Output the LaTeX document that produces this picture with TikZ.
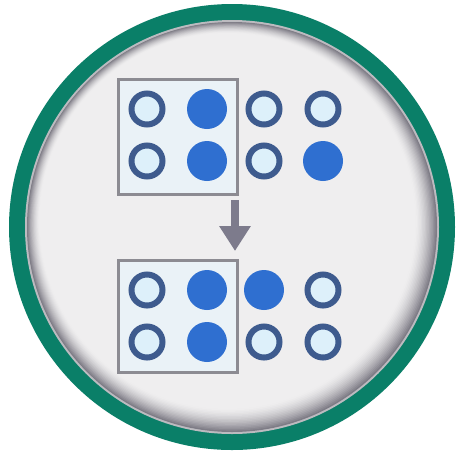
\documentclass[tikz,border=0pt]{standalone}
\usetikzlibrary{arrows.meta}
\definecolor{teal1}{HTML}{0A7F68}
\definecolor{ringgray}{HTML}{7E7C86}
\definecolor{bgfill}{HTML}{EFEEEF}
\definecolor{dotring}{HTML}{3E5B8E}
\definecolor{dotin}{HTML}{DDF0FA}
\definecolor{dotfull}{HTML}{2F6FD0}
\definecolor{boxgray}{HTML}{8C8B92}
\definecolor{boxfill}{HTML}{EAF2F7}
\definecolor{arrowgray}{HTML}{7D7B8C}
\tikzset{
  emptydot/.style={circle, draw=dotring, line width=6pt, fill=dotin, minimum size=31pt, inner sep=0pt},
  fulldot/.style={circle, fill=dotfull, minimum size=40pt, inner sep=0pt},
  framebox/.style={draw=boxgray, line width=3pt, fill=boxfill},
  downarrow/.style={draw=arrowgray, line width=8pt, -{Triangle[width=30pt,length=25pt]}}
}
\begin{document}
\begin{tikzpicture}[x=1pt,y=-1pt]
\useasboundingbox (0,0) rectangle (457,451);
\fill[white] (0,0) rectangle (457,451);
% outer teal ring
\fill[teal1] (232,227) circle[radius=223];
% inner gray shadow ring
\fill[ringgray!45!bgfill] (232,227) circle[radius=207];
\foreach \i in {0,...,16}{
  \pgfmathsetmacro{\cx}{232-4.5*\i/16}
  \pgfmathsetmacro{\cy}{227-6*\i/16}
  \pgfmathsetmacro{\r}{205-17*\i/16}
  \pgfmathsetmacro{\m}{100*(1-\i/16)^1.6}
  \fill[ringgray!\m!bgfill] (\cx,\cy) circle[radius=\r];
}
% boxes
\draw[framebox] (118,79) rectangle (237,194);
\draw[framebox] (118,260) rectangle (237,372);
% top dots
\node[emptydot] (t11) at (147,109) {};
\node[fulldot]  (t12) at (207,109) {};
\node[emptydot] (t13) at (264,109) {};
\node[emptydot] (t14) at (323,109) {};
\node[emptydot] (t21) at (147,161) {};
\node[fulldot]  (t22) at (207,161) {};
\node[emptydot] (t23) at (264,161) {};
\node[fulldot]  (t24) at (323,161) {};
% bottom dots
\node[emptydot] (b11) at (147,290) {};
\node[fulldot]  (b12) at (207,290) {};
\node[fulldot]  (b13) at (264,290) {};
\node[emptydot] (b14) at (323,290) {};
\node[emptydot] (b21) at (147,342) {};
\node[fulldot]  (b22) at (207,342) {};
\node[emptydot] (b23) at (264,342) {};
\node[emptydot] (b24) at (323,342) {};
% arrow
\coordinate (a1) at (235,200);
\coordinate (a2) at (235,251);
\draw[downarrow] (a1) -- (a2);
\end{tikzpicture}
\end{document}
